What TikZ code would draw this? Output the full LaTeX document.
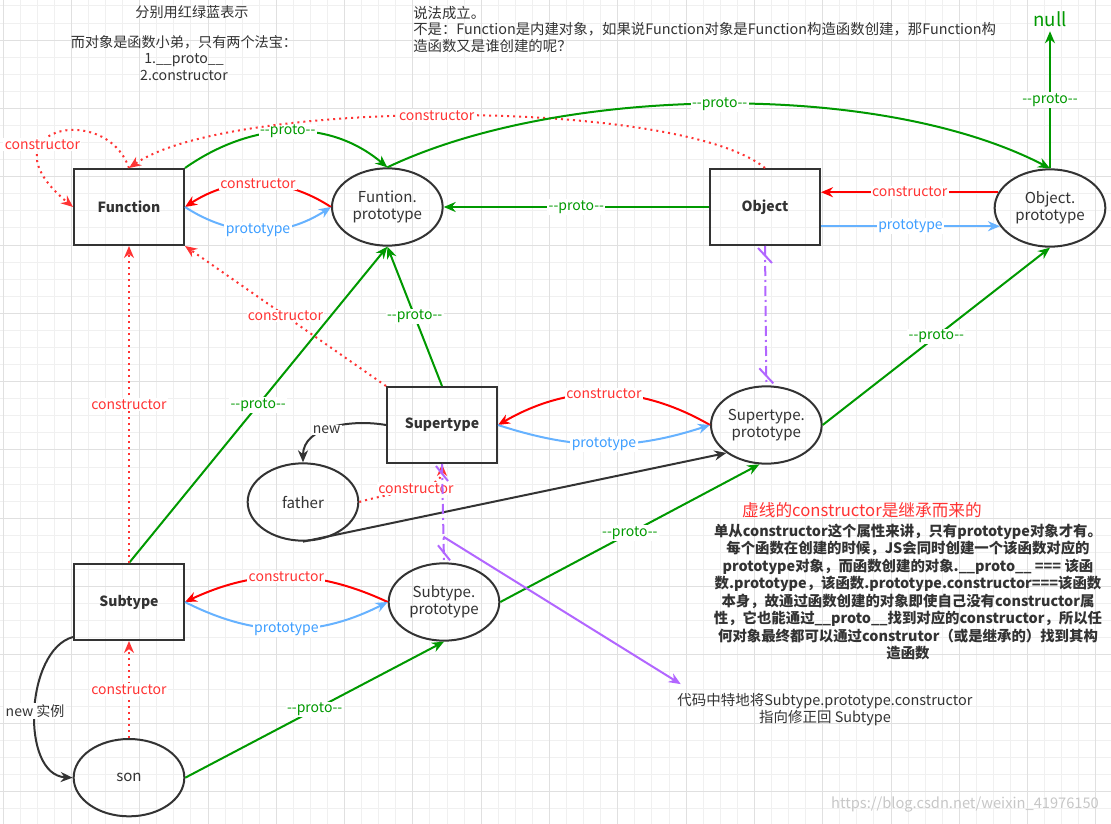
\documentclass[tikz,border=0pt]{standalone}
\usepackage{fontspec}
\setmainfont{Noto Sans CJK SC}
\usetikzlibrary{positioning}
\usetikzlibrary{arrows.meta}
\usetikzlibrary{shapes.geometric}
\definecolor{ink}{HTML}{333333}
\definecolor{pgreen}{HTML}{009900}
\definecolor{cred}{HTML}{FF0000}
\definecolor{cdot}{HTML}{FF3333}
\definecolor{pblue}{HTML}{66B2FF}
\definecolor{ptxt}{HTML}{3D9EFF}
\definecolor{ppurple}{HTML}{B266FF}
\newcommand{\protomark}{-{}-proto-{}-}

\begin{document}
\begin{tikzpicture}[x=0.75pt, y=0.75pt, >={Stealth[length=9pt,width=7.5pt]},
  every node/.style={text=ink, font=\fontsize{10.5}{12}\selectfont},
  fnbox/.style={draw=ink, line width=1.5pt, rectangle, minimum width=82.5pt, minimum height=57pt, font=\fontsize{10.5}{12}\selectfont\bfseries},
  protoell/.style={draw=ink, line width=1.5pt, ellipse, minimum width=83pt, minimum height=58pt, inner sep=0pt, align=center, font=\fontsize{11.3}{12.6}\selectfont},
  edgelbl/.style={fill=white, inner sep=1pt},
  greenlbl/.style={edgelbl, text=pgreen},
  redlbl/.style={edgelbl, text=cdot},
  bluelbl/.style={edgelbl, text=ptxt},
  protoline/.style={draw=pgreen, line width=1.5pt, ->},
  ctorline/.style={draw=cred, line width=1.5pt, ->},
  ctordot/.style={draw=cdot, line width=1.5pt, dash pattern=on 1.5pt off 3pt, ->},
  ptline/.style={draw=pblue, line width=1.5pt, ->},
  newline/.style={draw=ink, line width=1.5pt, ->},
  purpline/.style={draw=ppurple, line width=1.5pt, dash pattern=on 7.5pt off 3pt on 1.5pt off 3pt},
  purptick/.style={draw=ppurple, line width=1.5pt},
  fixline/.style={draw=ppurple, line width=1.5pt, ->},
  gridline/.style={draw=black!6, line width=0.6pt},
  gridmajor/.style={draw=black!12, line width=0.6pt}]
\useasboundingbox (0,0) rectangle (1111,-824);
\fill[white] (0,0) rectangle (1111,-824);
\foreach \i in {0,...,65} {\draw[gridline] ({3+17.075*\i},0) -- ++(0,-824);}
\foreach \j in {0,...,48} {\draw[gridline] (0,{-5.9-17.075*\j}) -- ++(1111,0);}
\foreach \i in {0,...,16} {\draw[gridmajor] ({3+68.3*\i},0) -- ++(0,-824);}
\foreach \j in {0,...,11} {\draw[gridmajor] (0,{-40.05-68.3*\j}) -- ++(1111,0);}

\node[font=\fontsize{10.6}{12.4}\selectfont] (tipcolor) at (192,-12) {分别用红绿蓝表示};
\node[align=center, font=\fontsize{10.6}{12.4}\selectfont] (tipobj) at (184,-58) {而对象是函数小弟，只有两个法宝：\\1.\_\_proto\_\_\\2.constructor};
\node[anchor=north west, align=left, inner sep=0pt, font=\fontsize{10.8}{12.4}\selectfont] (question) at (413,-6) {说法成立。\\不是：Function是内建对象，如果说Function对象是Function构造函数创建，那Function构\\造函数又是谁创建的呢？};
\node[text=pgreen, font=\fontsize{14}{16}\selectfont] (null) at (1050,-19) {null};

\node[fnbox] (Function) at (129,-207) {Function};
\node[protoell, right=109.5pt of Function] (FunProto) {Funtion.\\prototype};
\node[fnbox] (Object) at (765,-207) {Object};
\node[protoell] (ObjProto) at (1050,-208) {Object.\\prototype};
\node[fnbox] (Supertype) at (442,-425) {Supertype};
\node[protoell, right=159pt of Supertype] (SupProto) {Supertype.\\prototype};
\node[protoell] (father) at (303,-502) {father};
\node[fnbox] (Subtype) at (129,-602) {Subtype};
\node[protoell, right=152pt of Subtype] (SubProto) {Subtype.\\prototype};
\node[protoell, below=72.75pt of Subtype] (son) {son};

\node[text=cdot, font=\fontsize{12.5}{14}\selectfont] (dashnote) at (862,-510) {虚线的constructor是继承而来的};
\node[align=center, font=\fontsize{10.8}{13.1}\selectfont\bfseries] (explain) at (908,-592) {单从constructor这个属性来讲，只有prototype对象才有。\\每个函数在创建的时候，JS会同时创建一个该函数对应的\\prototype对象，而函数创建的对象.\_\_proto\_\_ === 该函\\数.prototype，该函数.prototype.constructor===该函数\\本身，故通过函数创建的对象即使自己没有constructor属\\性，它也能通过\_\_proto\_\_找到对应的constructor，所以任\\何对象最终都可以通过construtor（或是继承的）找到其构\\造函数};
\node[align=center, font=\fontsize{10.85}{12.6}\selectfont] (fixnote) at (825,-710) {代码中特地将Subtype.prototype.constructor\\指向修正回 Subtype};
\node[text=black!22, font=\fontsize{11}{12}\selectfont] (mark) at (965,-804) {https://blog.csdn.net/weixin\_41976150};

\draw[ctorline] (FunProto.west) to[bend right=33] node[redlbl]{constructor} (Function.east);
\draw[ptline] (Function.east) to[bend right=33] node[bluelbl]{prototype} (FunProto.west);
\draw[protoline] (Function.north east) to[out=35,in=140] node[greenlbl]{\protomark} (FunProto.north);
\draw[ctordot] (Function.north) .. controls (105,-100) and (-20,-130) .. node[redlbl,pos=0.64]{constructor} (Function.west);
\draw[ctordot] (Object.north) .. controls (680,-98) and (230,-98) .. node[redlbl,pos=0.52]{constructor} (Function.north);
\draw[protoline] (FunProto.north) .. controls (560,-85) and (880,-80) .. node[greenlbl]{\protomark} (ObjProto.north);
\draw[protoline] (ObjProto.north) -- node[greenlbl]{\protomark} (null.south);
\draw[protoline] (Object.west) -- node[greenlbl]{\protomark} (FunProto.east);
\draw[ctorline] (ObjProto.163) -- node[redlbl]{constructor} (ObjProto.163 -| Object.east);
\draw[ptline] (ObjProto.200 -| Object.east) -- node[bluelbl]{prototype} (ObjProto.200);

\draw[ctordot] (Supertype.north west) -- node[redlbl]{constructor} (Function.south east);
\draw[protoline] (Supertype.north) -- node[greenlbl]{\protomark} (FunProto.south);
\draw[ctorline] (SupProto.west) to[bend right=30] node[redlbl]{constructor} (Supertype.east);
\draw[ptline] (Supertype.east) to[bend right=18] node[bluelbl]{prototype} (SupProto.west);
\draw[protoline] (SupProto.east) -- node[greenlbl]{\protomark} (ObjProto.south);
\draw[purpline] (Object.south) -- (SupProto.north);
\draw[purptick] ([shift={(-7,-2)}]Object.south) -- ++(14,-15);
\draw[purptick] ([shift={(-7,17)}]SupProto.north) -- ++(14,-15);
\draw[newline] (Supertype.west) to[out=170,in=90] node[pos=0.55, edgelbl]{new} (father.north);
\draw[newline] (father.south) -- (SupProto.215);
\draw[ctordot] (father.east) .. controls (400,-490) and (442,-490) .. node[redlbl]{constructor} (Supertype.south);

\draw[protoline] (Subtype.north) -- node[greenlbl]{\protomark} (FunProto.south);
\draw[ctordot] (Subtype.north) -- node[redlbl]{constructor} (Function.south);
\draw[ctorline] (SubProto.west) to[bend right=25] node[redlbl]{constructor} (Subtype.east);
\draw[ptline] (Subtype.east) to[bend right=27] node[bluelbl]{prototype} (SubProto.west);
\draw[protoline] (SubProto.east) -- node[greenlbl]{\protomark} (SupProto.260);
\draw[purpline] (Supertype.south) -- coordinate[pos=0.74] (fixpt) (SubProto.north);
\draw[purptick] ([shift={(-6,-2)}]Supertype.south) -- ++(12,-15);
\draw[purptick] ([shift={(-6,17)}]SubProto.north) -- ++(12,-15);
\draw[fixline] (fixpt) -- ([shift={(8,5)}]fixnote.north west);
\draw[protoline] (son.east) -- node[greenlbl]{\protomark} (SubProto.south);
\draw[ctordot] (son.north) -- node[redlbl]{constructor} (Subtype.south);
\draw[newline] (Subtype.212) .. controls (25,-650) and (20,-775) .. node[edgelbl]{new 实例} (son.west);
\end{tikzpicture}
\end{document}
